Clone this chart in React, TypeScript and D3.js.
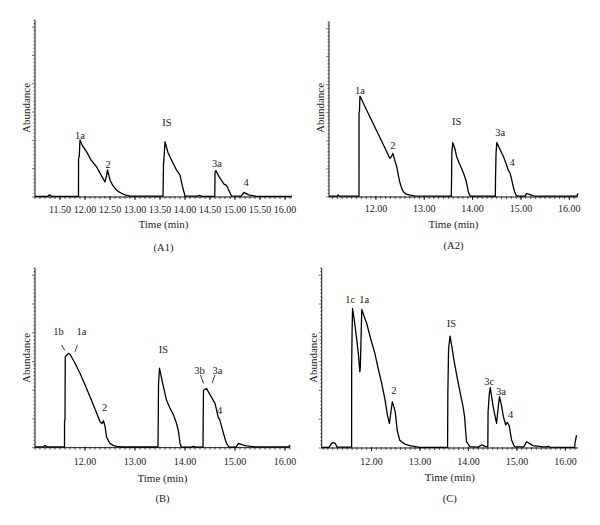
import React from "react";
import * as d3 from "d3";

// ---- Data (time in min, abundance in % of axis height) ----
const a1Time = [11.0, 11.25, 11.29, 11.34, 11.87, 11.871, 11.885, 11.90, 11.95, 12.03, 12.12, 12.23, 12.32, 12.40, 12.43, 12.45, 12.50, 12.55, 12.60, 12.66, 12.73, 12.82, 12.90, 13.56, 13.57, 13.575, 13.60, 13.66, 13.73, 13.83, 13.90, 13.95, 14.0, 14.25, 14.29, 14.33, 14.595, 14.60, 14.605, 14.62, 14.66, 14.70, 14.78, 14.83, 14.89, 14.93, 15.12, 15.18, 15.27, 15.43, 16.14];
const a1Abund = [0.3, 0.3, 1.2, 0.3, 0.3, 22, 23, 32.2, 29, 25.6, 21, 17.1, 12.5, 8.5, 12, 15.3, 9.6, 6.8, 4.9, 3.2, 2.1, 1, 0.5, 0.5, 19, 20, 31.2, 25, 20.9, 15.3, 12.4, 5.8, 0.6, 0.5, 1.0, 0.4, 0.4, 13, 14.5, 14.9, 12.5, 10.6, 7.3, 6.6, 3, 0.6, 0.5, 2.6, 1.2, 0.4, 0.4];

const a2Time = [11.03, 11.20, 11.22, 11.25, 11.65, 11.651, 11.66, 11.67, 11.80, 11.95, 12.10, 12.20, 12.29, 12.33, 12.35, 12.38, 12.43, 12.47, 12.50, 12.54, 12.57, 12.63, 12.71, 12.80, 13.56, 13.565, 13.57, 13.59, 13.63, 13.67, 13.72, 13.77, 13.82, 13.86, 13.89, 13.91, 13.95, 14.47, 14.475, 14.485, 14.50, 14.57, 14.64, 14.70, 14.74, 14.77, 14.80, 14.84, 14.87, 14.90, 14.93, 15.08, 15.12, 15.16, 15.26, 15.35, 16.16, 16.17, 16.18];
const a2Abund = [0.5, 0.5, 1.2, 0.5, 0.5, 48, 49, 57.6, 50.1, 41.5, 32.9, 27.2, 22, 23.5, 24.9, 22, 17.3, 11.5, 7.8, 4.5, 3, 1.6, 1.1, 0.6, 0.5, 10, 25, 31, 28, 23, 19.5, 16.4, 13, 9.7, 6, 3, 0.5, 0.5, 12, 25, 31, 27, 23, 18.5, 15, 13.9, 11, 5.9, 3, 1, 0.5, 0.5, 2, 1.6, 0.6, 0.5, 0.5, 1.8, 1.2];

const bTime = [11.0, 11.17, 11.20, 11.23, 11.59, 11.591, 11.60, 11.605, 11.67, 11.70, 11.80, 11.90, 12.00, 12.10, 12.20, 12.30, 12.34, 12.37, 12.40, 12.43, 12.47, 12.50, 12.56, 12.63, 12.75, 13.46, 13.465, 13.47, 13.49, 13.56, 13.63, 13.70, 13.77, 13.83, 13.87, 13.90, 13.93, 14.13, 14.17, 14.21, 14.36, 14.365, 14.37, 14.40, 14.43, 14.46, 14.53, 14.60, 14.67, 14.69, 14.75, 14.80, 14.83, 14.88, 15.02, 15.07, 15.15, 15.23, 15.40, 16.08, 16.09, 16.10];
const bAbund = [0.5, 0.5, 1.3, 0.5, 0.5, 15, 15.5, 50.6, 52.5, 52, 47, 41.4, 35, 28.4, 21.5, 14.5, 13.5, 14.9, 12, 6.1, 3.8, 2.4, 1.3, 0.7, 0.4, 0.4, 15, 35, 44.2, 35, 26.5, 22, 18.2, 13.6, 9, 2.4, 0.3, 0.3, 0.8, 0.3, 0.3, 20, 32, 32.5, 33, 31.5, 28, 24.7, 16.4, 16, 9.9, 5, 2.4, 0.3, 0.3, 2.4, 1.6, 1, 0.5, 0.5, 1.3, 0.8];

const cTime = [10.98, 11.12, 11.18, 11.21, 11.25, 11.29, 11.59, 11.591, 11.60, 11.61, 11.65, 11.69, 11.73, 11.76, 11.77, 11.80, 11.85, 11.90, 11.98, 12.07, 12.14, 12.21, 12.28, 12.33, 12.37, 12.40, 12.43, 12.46, 12.49, 12.53, 12.58, 12.62, 12.70, 12.79, 12.99, 13.57, 13.575, 13.59, 13.62, 13.66, 13.70, 13.79, 13.89, 13.92, 13.96, 14.03, 14.20, 14.27, 14.36, 14.40, 14.405, 14.43, 14.45, 14.51, 14.58, 14.62, 14.64, 14.68, 14.72, 14.77, 14.80, 14.84, 14.89, 14.95, 15.14, 15.20, 15.33, 15.55, 15.62, 15.65, 15.68, 16.0, 16.19, 16.20, 16.23];
const cAbund = [0.4, 0.4, 2.6, 3, 2.6, 0.5, 0.5, 45, 65, 77.6, 70, 61.8, 52, 42.4, 45, 77, 73, 69.3, 61, 52.6, 44, 35.9, 26.7, 18, 13.7, 20, 25.7, 23, 20.2, 10, 4.5, 3.5, 2, 1.3, 0.4, 0.4, 30, 55, 62.2, 56, 48.9, 35.9, 22.9, 17.4, 3.5, 0.8, 0.5, 1.7, 0.8, 0.8, 20, 30, 33.5, 23, 13.7, 24, 28.5, 24, 17.4, 12.8, 14.3, 12.5, 4.4, 0.7, 0.6, 3.5, 1.3, 0.6, 0.6, 0.9, 0.5, 0.4, 0.4, 3, 7.2];

// tick labels
const a1Ticks = [11.5, 12.0, 12.5, 13.0, 13.5, 14.0, 14.5, 15.0, 15.5, 16.0];
const intTicks = [12, 13, 14, 15, 16];

// peak labels: text, time, abundance
const a1Labels = [["1a", 11.90, 35.0], ["2", 12.46, 18.6], ["IS", 13.64, 42.4], ["3a", 14.64, 19.2], ["4", 15.22, 8.5]];
const a2Labels = [["1a", 11.67, 61], ["2", 12.35, 29.3], ["IS", 13.67, 43], ["3a", 14.57, 36.9], ["4", 14.82, 19.8]];
const bLabels = [["1b", 11.47, 64.6], ["1a", 11.93, 64.6], ["IS", 13.57, 54.8], ["2", 12.39, 22.3], ["3b", 14.29, 43.2], ["3a", 14.65, 43.2], ["4", 14.69, 20.6]];
const bLeaders = [[11.53, 57.2, 11.60, 54.0], [11.85, 57.2, 11.80, 53.4], [14.31, 40.5, 14.37, 35.8], [14.60, 40.5, 14.54, 35.8]];
const cLabels = [["1c", 11.56, 82.8], ["1a", 11.85, 82.8], ["2", 12.46, 32.2], ["IS", 13.65, 69.3], ["3c", 14.43, 36.8], ["3a", 14.67, 31.7], ["4", 14.87, 18.7]];

const FONT = "'Liberation Serif', 'DejaVu Serif', serif";

type PanelProps = {
  time: number[]; abund: number[]; labels: any[]; leaders?: number[][];
  ticks: number[]; tickFmt: (v: number) => string; minorStep: number;
  domain: [number, number]; left: number; right: number; top: number; bottom: number;
  tickY: number; titleY: number; captionY: number; caption: string;
  ylabX: number; ylabY: number;
};

function Panel(p: PanelProps) {
  const x = d3.scaleLinear().domain(p.domain).range([p.left, p.right]);
  const y = d3.scaleLinear().domain([0, 100]).range([p.bottom, p.top]);
  const pts = d3.zip(p.time, p.abund) as [number, number][];
  const line = d3.line<[number, number]>().x(d => x(d[0])).y(d => y(d[1]));
  const minor = d3.range(Math.ceil(p.domain[0] / p.minorStep) * p.minorStep, p.domain[1] + 1e-6, p.minorStep);
  const yMinor = d3.range(0, 100.01, 2);
  const cx = (p.left + p.right) / 2;
  return (
    <g>
      <line x1={p.left} x2={p.left} y1={p.top} y2={p.bottom} stroke="#111" strokeWidth={1} />
      <line x1={p.left} x2={p.right} y1={p.bottom} y2={p.bottom} stroke="#111" strokeWidth={1} />
      {yMinor.map((v, i) => (
        <line key={"ym" + i} x1={p.left - (i % 8 === 0 ? 3 : 1.5)} x2={p.left} y1={y(v)} y2={y(v)} stroke="#333" strokeWidth={0.7} />
      ))}
      {minor.map((v, i) => (
        <line key={"xm" + i} x1={x(v)} x2={x(v)} y1={p.bottom - 1} y2={p.bottom + 2} stroke="#333" strokeWidth={0.8} />
      ))}
      {p.ticks.map((v, i) => (
        <g key={"xt" + i}>
          <line x1={x(v)} x2={x(v)} y1={p.bottom - 1} y2={p.bottom + 3} stroke="#111" strokeWidth={0.9} />
          <text x={x(v)} y={p.tickY} dy="0.35em" textAnchor="middle" fontSize={10} fontFamily={FONT} fill="#222">{p.tickFmt(v)}</text>
        </g>
      ))}
      <path d={line(pts) || ""} fill="none" stroke="#000" strokeWidth={1.3} strokeLinejoin="round" />
      {p.labels.map((l, i) => (
        <text key={"l" + i} x={x(l[1])} y={y(l[2])} dy="0.35em" textAnchor="middle" fontSize={10.5} fontFamily={FONT} fill="#222">{l[0]}</text>
      ))}
      {(p.leaders || []).map((s, i) => (
        <line key={"ld" + i} x1={x(s[0])} y1={y(s[1])} x2={x(s[2])} y2={y(s[3])} stroke="#222" strokeWidth={0.9} />
      ))}
      <text x={cx} y={p.titleY} dy="0.35em" textAnchor="middle" fontSize={11} fontFamily={FONT} fill="#222">Time (min)</text>
      <text x={cx} y={p.captionY} dy="0.35em" textAnchor="middle" fontSize={10.5} fontFamily={FONT} fill="#222">{p.caption}</text>
      <text transform={`translate(${p.ylabX},${p.ylabY}) rotate(-90)`} dy="0.35em" textAnchor="middle" fontSize={11} fontFamily={FONT} fill="#222">Abundance</text>
    </g>
  );
}

export default function App() {
  const f2 = (v: number) => v.toFixed(2);
  return (
    <svg width={600} height={525} style={{ position: "absolute", left: 0, top: 0, background: "#fff" }}>
      <rect width={600} height={525} fill="#fff" />
      <Panel time={a1Time} abund={a1Abund} labels={a1Labels} ticks={a1Ticks} tickFmt={f2} minorStep={0.1}
        domain={[11.0, 16.14]} left={35} right={292} top={20} bottom={197}
        tickY={209} titleY={224} captionY={247} caption="(A1)" ylabX={26} ylabY={108} />
      <Panel time={a2Time} abund={a2Abund} labels={a2Labels} ticks={intTicks} tickFmt={f2} minorStep={0.1}
        domain={[11.03, 16.18]} left={329} right={578} top={21.7} bottom={197}
        tickY={208} titleY={224} captionY={245} caption="(A2)" ylabX={320} ylabY={108} />
      <Panel time={bTime} abund={bAbund} labels={bLabels} leaders={bLeaders} ticks={intTicks} tickFmt={f2} minorStep={0.1}
        domain={[11.0, 16.1]} left={35} right={290} top={268} bottom={447.7}
        tickY={461.5} titleY={478} captionY={498} caption="(B)" ylabX={26} ylabY={358} />
      <Panel time={cTime} abund={cAbund} labels={cLabels} ticks={intTicks} tickFmt={f2} minorStep={0.1}
        domain={[10.973, 16.26]} left={321.7} right={578} top={268} bottom={448}
        tickY={461} titleY={476.7} captionY={498} caption="(C)" ylabX={313} ylabY={358} />
    </svg>
  );
}
